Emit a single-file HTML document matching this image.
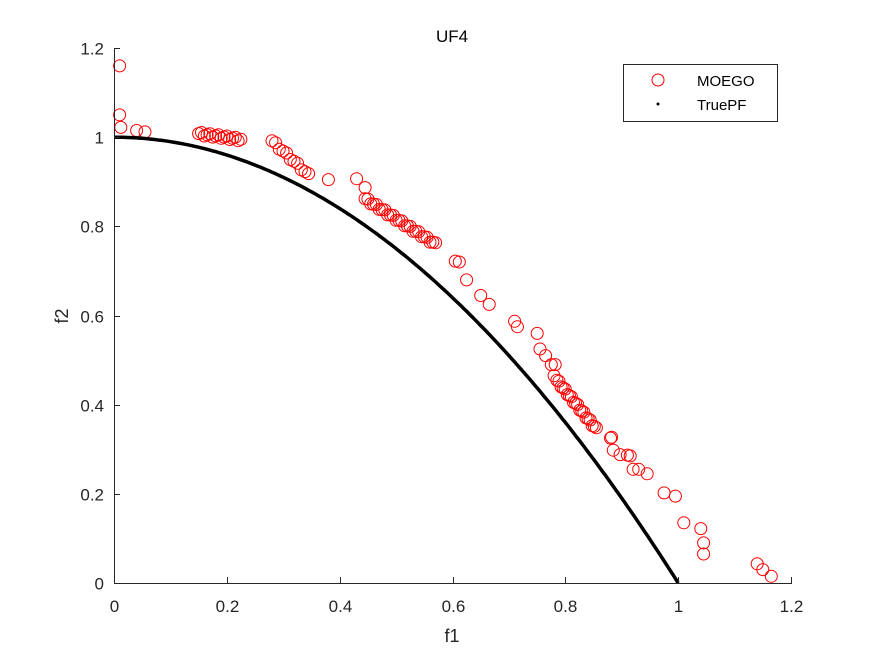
<!DOCTYPE html>
<html><head><style>
body{margin:0;background:#fff}
svg{font-family:"Liberation Sans",Arial,sans-serif}
</style></head><body>
<svg id="s" width="875" height="656" viewBox="0 0 875 656" xmlns="http://www.w3.org/2000/svg">
<rect width="875" height="656" fill="#fff"/>
<g id="pts" fill="none" stroke="#ff0000" stroke-width="1"></g>
<path id="pf" fill="none" stroke="#000" stroke-width="3.5"/>
<g stroke="#262626" stroke-width="1" fill="none">
<line x1="114.5" y1="48" x2="114.5" y2="583.5"/>
<line x1="114" y1="583.5" x2="792" y2="583.5"/>
</g>
<g id="ticks" stroke="#262626" stroke-width="1"></g>
<g id="labs" fill="#262626" font-size="17"></g>
<text x="452" y="42" text-anchor="middle" font-size="17" fill="#000">UF4</text>
<text x="452" y="642" text-anchor="middle" font-size="18" fill="#262626">f1</text>
<text transform="translate(68,316) rotate(-90)" text-anchor="middle" font-size="18" fill="#262626">f2</text>
<rect x="623.5" y="64.5" width="154" height="57" fill="#fff" stroke="#262626"/>
<circle cx="658" cy="80" r="6" fill="none" stroke="#ff0000"/>
<text x="697" y="86" font-size="15" fill="#000">MOEGO</text>
<circle cx="658" cy="104" r="1.5" fill="#000"/>
<text x="697" y="110" font-size="15" fill="#000">TruePF</text>
</svg>
<script>
var X=function(v){return 114+v*564.2},Y=function(v){return 583-v*445.8};
var ns="http://www.w3.org/2000/svg";
var d="";for(var i=0;i<=200;i++){var f=i/200;d+=(i?"L":"M")+X(f).toFixed(1)+","+Y(1-f*f).toFixed(1);}
document.getElementById("pf").setAttribute("d",d);
var P=[[0.01,1.16],[0.01,1.05],[0.012,1.022],[0.04,1.015],[0.055,1.012],[0.38,0.905],[0.43,0.907],[0.445,0.887],[0.605,0.722],[0.612,0.72],[0.625,0.68],[0.65,0.645],[0.665,0.625],[0.71,0.587],[0.715,0.575],[0.75,0.56],[0.755,0.525],[0.765,0.51],[0.775,0.49],[0.782,0.49],[0.78,0.465],
[0.88,0.325],[0.882,0.327],[0.885,0.298],[0.897,0.288],[0.91,0.287],[0.915,0.285],[0.92,0.255],[0.93,0.255],[0.945,0.245],[0.975,0.202],[0.995,0.195],[1.01,0.135],[1.04,0.122],[1.045,0.09],[1.045,0.065],[1.14,0.043],[1.15,0.03],[1.165,0.015]];
function seg(a,b,c,e,n){for(var i=0;i<n;i++){var t=i/(n-1);P.push([a+(b-a)*t,c+(e-c)*t+0.004*Math.sin(i*2.1)]);}}
seg(0.15,0.225,1.008,0.995,16);
seg(0.28,0.345,0.992,0.915,11);
seg(0.445,0.57,0.862,0.76,26);
seg(0.785,0.855,0.455,0.345,20);
var g=document.getElementById("pts");
P.forEach(function(p){var c=document.createElementNS(ns,"circle");c.setAttribute("cx",X(p[0]).toFixed(1));c.setAttribute("cy",Y(p[1]).toFixed(1));c.setAttribute("r","6");g.appendChild(c);});
var tk=document.getElementById("ticks"),lb=document.getElementById("labs");
function L(x1,y1,x2,y2){var l=document.createElementNS(ns,"line");l.setAttribute("x1",x1);l.setAttribute("y1",y1);l.setAttribute("x2",x2);l.setAttribute("y2",y2);tk.appendChild(l);}
function T(x,y,s,a){var t=document.createElementNS(ns,"text");t.setAttribute("x",x);t.setAttribute("y",y);t.setAttribute("text-anchor",a);t.textContent=s;lb.appendChild(t);}
var labs=["0","0.2","0.4","0.6","0.8","1","1.2"];
for(var i=0;i<=6;i++){var v=i*0.2;var x=Math.round(X(v))+0.5,y=Math.round(Y(v))+0.5;
L(x,583,x,577);L(114,y,120,y);
T(x,612,labs[i],"middle");T(104,y+6,labs[i],"end");}
</script>
</body></html>
